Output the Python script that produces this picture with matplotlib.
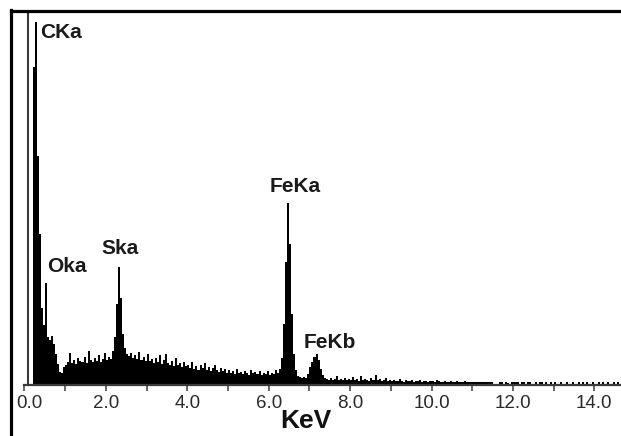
import numpy as np
import matplotlib
matplotlib.use("Agg")
import matplotlib.pyplot as plt
import matplotlib.transforms as mtransforms
from matplotlib.lines import Line2D

# ---------------- data ----------------
bin_width = 0.05  # keV per channel group
# counts per 0.05 keV bin, starting at 0.00 keV (one row per keV)
counts = [
    # 0.00 - 0.95
    0, 0, 0, 0, 317, 362, 228, 150, 76, 59, 101, 47, 44, 48, 40, 30, 20, 12, 11, 17,
    # 1.00 - 1.95
    19, 22, 31, 21, 24, 20, 26, 23, 22, 27, 21, 33, 24, 22, 26, 23, 29, 22, 25, 31,
    # 2.00 - 2.95
    24, 27, 25, 33, 47, 80, 117, 86, 50, 36, 30, 28, 31, 26, 29, 25, 32, 24, 27, 23,
    # 3.00 - 3.95
    30, 23, 25, 21, 26, 22, 29, 20, 24, 30, 21, 19, 23, 18, 26, 19, 21, 17, 22, 18,
    # 4.00 - 4.95
    19, 16, 22, 15, 18, 14, 19, 16, 21, 14, 17, 13, 16, 19, 14, 12, 16, 13, 15, 11,
    # 5.00 - 5.95
    14, 11, 13, 10, 15, 11, 12, 10, 13, 11, 9, 14, 11, 12, 10, 13, 9, 11, 10, 13,
    # 6.00 - 6.95
    9, 11, 10, 14, 11, 15, 26, 60, 122, 181, 140, 70, 30, 14, 8, 7, 6, 7, 6, 10,
    # 7.00 - 7.95
    17, 22, 27, 30, 24, 15, 9, 6, 5, 4, 6, 4, 5, 8, 4, 5, 4, 6, 4, 5,
    # 8.00 - 8.95
    4, 7, 4, 5, 3, 8, 4, 5, 4, 3, 6, 4, 9, 4, 5, 3, 4, 6, 3, 4,
    # 9.00 - 9.95
    3, 4, 3, 3, 5, 3, 2, 4, 3, 3, 4, 2, 3, 3, 4, 2, 3, 3, 2, 3,
    # 10.00 - 10.95
    3, 2, 4, 3, 2, 2, 3, 2, 2, 3, 2, 2, 3, 2, 2, 2, 3, 2, 2, 2,
    # 11.00 - 11.95
    2, 2, 2, 2, 2, 2, 2, 2, 2, 2, 0, 0, 0, 2, 2, 0, 2, 1, 0, 2,
    # 12.00 - 12.95
    2, 2, 2, 0, 2, 2, 0, 2, 2, 0, 0, 2, 0, 2, 2, 0, 2, 0, 2, 0,
    # 13.00 - 13.95
    2, 0, 0, 2, 0, 0, 2, 0, 0, 2, 0, 0, 2, 0, 2, 0, 2, 0, 0, 2,
    # 14.00 - 14.60
    0, 0, 2, 0, 2, 0, 2, 0, 0, 2, 0, 2, 0,
]

peak_labels = ["CKa", "Oka", "Ska", "FeKa", "FeKb"]
peak_label_x = [0.38, 0.55, 1.90, 6.03, 6.87]      # keV (left edge of label)
peak_label_y = [351, 117, 135, 197, 41]            # counts (label centre)

major_ticks = [0, 2, 4, 6, 8, 10, 12, 14]
minor_ticks = [1, 3, 5, 7, 9, 11, 13]
x_label = "KeV"

# ---------------- figure ----------------
W, H = 621, 436
fig = plt.figure(figsize=(W / 100, H / 100), dpi=100)
fig.patch.set_facecolor("white")

px_per_kev = 40.7
x0_px = 24.5          # pixel of 0 keV
ax_left_px, ax_right_px = 20.4, 621
ax_top_px, ax_bot_px = 13, 385
ax = fig.add_axes([ax_left_px / W, 1 - ax_bot_px / H,
                   (ax_right_px - ax_left_px) / W, (ax_bot_px - ax_top_px) / H])
ax.set_xlim((ax_left_px - x0_px) / px_per_kev, (ax_right_px - x0_px) / px_per_kev)
ax.set_ylim(-1, 371)

edges = np.arange(len(counts) + 1) * bin_width
ax.stairs(counts, edges, fill=True, color="black", linewidth=0)

# spines
for s in ["top", "right", "left"]:
    ax.spines[s].set_visible(False)
ax.spines["bottom"].set_color("#3a3a3a")
ax.spines["bottom"].set_linewidth(1.6)
ax.spines["bottom"].set_bounds(0.0, ax.get_xlim()[1])

# vertical axis line (y-axis) just right of zero
ax.axvline((28.5 - x0_px) / px_per_kev, ymin=0.0, ymax=1.0, color="#3a3a3a", lw=1.5)

ax.set_yticks([])
ax.set_xticks(major_ticks)
ax.set_xticks(minor_ticks, minor=True)
ax.set_xticklabels([f"{v:.1f}" for v in major_ticks])
ax.tick_params(axis="x", which="both", direction="out", length=4.5, width=1.1,
               color="#3a3a3a", pad=3)
for lab in ax.get_xticklabels():
    lab.set_fontfamily("Liberation Sans")
    lab.set_fontsize(13.5)
    lab.set_color("#2a2a2a")
# the first label sits a little right of its tick in the reference
first = ax.get_xticklabels()[0]
first.set_transform(first.get_transform() +
                    mtransforms.ScaledTranslation(5 / 100, 0, fig.dpi_scale_trans))

ax.set_xlabel(x_label, fontfamily="Liberation Sans", fontweight="bold",
              fontsize=19, color="#111111")
ax.xaxis.set_label_coords((306 - ax_left_px) / (ax_right_px - ax_left_px),
                          -(421 - ax_bot_px) / (ax_bot_px - ax_top_px))
ax.xaxis.label.set_verticalalignment("center")

for name, lx, ly in zip(peak_labels, peak_label_x, peak_label_y):
    ax.text(lx, ly, name, ha="left", va="center", fontfamily="Liberation Sans",
            fontweight="bold", fontsize=15, color="#1a1a1a")

# outer frame lines (left and top)
fig.add_artist(Line2D([10.5 / W, 10.5 / W], [0, 1 - 10.5 / H],
                      transform=fig.transFigure, color="black", lw=2.3,
                      solid_capstyle="projecting"))
fig.add_artist(Line2D([10.5 / W, 1.0], [1 - 11.5 / H, 1 - 11.5 / H],
                      transform=fig.transFigure, color="black", lw=2.3,
                      solid_capstyle="projecting"))

fig.savefig("out.png", dpi=100, facecolor="white")
